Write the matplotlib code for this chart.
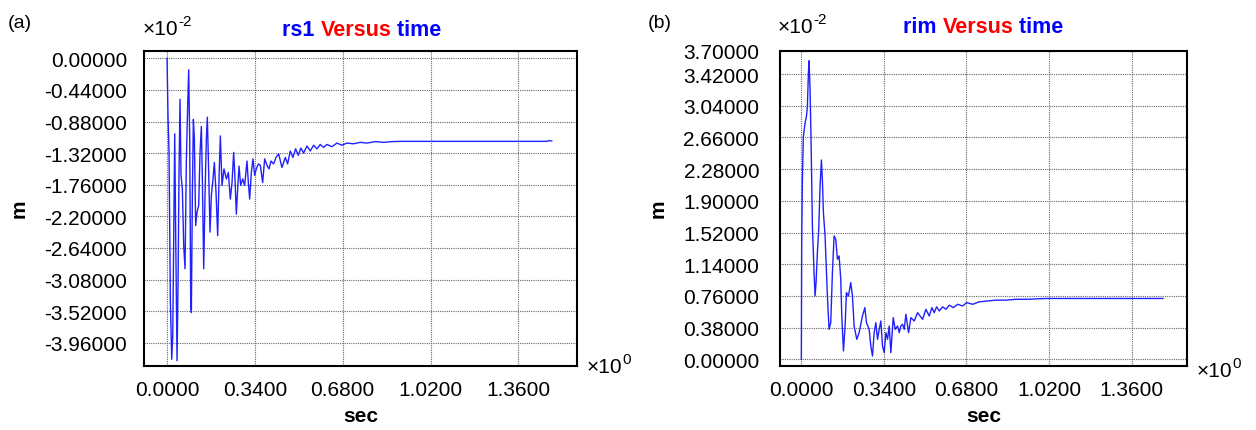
import matplotlib
matplotlib.use("Agg")
import matplotlib.pyplot as plt
import numpy as np

plt.rcParams['font.family'] = ['Liberation Sans', 'DejaVu Sans']

# time in sec, displacement in units of 1e-2 m
t_rs1 = [0.0, 0.0037, 0.0077, 0.0129, 0.0181, 0.0219, 0.0258, 0.0297, 0.0335, 0.0387,
         0.0426, 0.0464, 0.0503, 0.0542, 0.0593, 0.0645, 0.0696, 0.0748, 0.0799, 0.0838,
         0.0877, 0.0916, 0.0941, 0.0980, 0.1019, 0.1057, 0.1109, 0.1161, 0.1225, 0.1277,
         0.1328, 0.1367, 0.1419, 0.1470, 0.1522, 0.1560, 0.1612, 0.1663, 0.1715, 0.1780,
         0.1831, 0.1896, 0.1960, 0.2012, 0.2063, 0.2128, 0.2205, 0.2296, 0.2373, 0.2450,
         0.2515, 0.2579, 0.2631, 0.2682, 0.2734, 0.2786, 0.2850, 0.2927, 0.3005, 0.3095,
         0.3147, 0.3198, 0.3263, 0.3327, 0.3392, 0.3456, 0.3534, 0.3611, 0.3701, 0.3779,
         0.3869, 0.3946, 0.4024, 0.4127, 0.4217, 0.4320, 0.4448, 0.4577, 0.4668, 0.4770,
         0.4873, 0.4977, 0.5080, 0.5183, 0.5286, 0.5415, 0.5544, 0.5673, 0.5802, 0.5931,
         0.6060, 0.6189, 0.6382, 0.6576, 0.6769, 0.6962, 0.7220, 0.7478, 0.7736, 0.8058,
         0.8381, 0.8703, 0.9025, 1.4698, 1.4776, 1.4892]
rs1_vals = [0.00, -0.80, -1.31, -3.40, -4.19, -3.88, -2.52, -1.05, -2.47, -4.21,
            -3.12, -1.59, -0.57, -1.63, -1.82, -2.61, -2.93, -1.40, -0.66, -0.16,
            -1.12, -3.40, -3.54, -1.91, -0.85, -1.12, -2.33, -2.14, -2.05, -1.31,
            -0.95, -1.68, -2.93, -1.91, -1.12, -0.82, -1.59, -2.42, -1.91, -1.68,
            -1.45, -1.87, -2.47, -1.68, -1.08, -1.77, -1.54, -1.68, -1.59, -1.96,
            -1.73, -1.31, -1.68, -2.17, -1.82, -1.50, -1.77, -1.68, -1.77, -1.43,
            -1.73, -1.96, -1.59, -1.40, -1.63, -1.54, -1.47, -1.49, -1.73, -1.40,
            -1.49, -1.54, -1.43, -1.47, -1.38, -1.33, -1.52, -1.38, -1.47, -1.29,
            -1.38, -1.26, -1.35, -1.25, -1.32, -1.22, -1.29, -1.21, -1.26, -1.20,
            -1.24, -1.20, -1.23, -1.18, -1.21, -1.18, -1.19, -1.17, -1.18, -1.16,
            -1.17, -1.16, -1.156, -1.156, -1.146, -1.15]

t_rim = [0.0, 0.0014, 0.0042, 0.0083, 0.0152, 0.0208, 0.0249, 0.0290, 0.0318, 0.0359,
         0.0400, 0.0455, 0.0524, 0.0565, 0.0606, 0.0661, 0.0716, 0.0771, 0.0826, 0.0867,
         0.0909, 0.0977, 0.1073, 0.1142, 0.1211, 0.1280, 0.1349, 0.1417, 0.1486, 0.1555,
         0.1624, 0.1665, 0.1734, 0.1802, 0.1857, 0.1940, 0.2036, 0.2105, 0.2174, 0.2284,
         0.2380, 0.2518, 0.2614, 0.2683, 0.2793, 0.2862, 0.2930, 0.2999, 0.3068, 0.3137,
         0.3206, 0.3274, 0.3343, 0.3412, 0.3481, 0.3550, 0.3619, 0.3687, 0.3784, 0.3866,
         0.3962, 0.4031, 0.4100, 0.4169, 0.4238, 0.4306, 0.4416, 0.4512, 0.4650, 0.4788,
         0.4993, 0.5130, 0.5268, 0.5378, 0.5474, 0.5571, 0.5681, 0.5818, 0.5956, 0.6093,
         0.6259, 0.6437, 0.6643, 0.6808, 0.7056, 0.7331, 0.7675, 0.8019, 0.8431, 0.8844,
         0.9257, 1.0082, 1.0770, 1.1457, 1.4896]
rim_vals = [0.00, 1.36, 2.15, 2.67, 2.83, 2.91, 3.03, 3.43, 3.58, 3.23,
            2.63, 1.60, 1.04, 0.76, 0.92, 1.28, 1.56, 2.07, 2.39, 2.15,
            1.76, 1.48, 0.76, 0.36, 0.44, 1.04, 1.48, 1.44, 1.20, 1.24,
            0.96, 0.52, 0.10, 0.40, 0.80, 0.76, 0.92, 0.76, 0.40, 0.24,
            0.32, 0.52, 0.62, 0.44, 0.36, 0.16, 0.04, 0.32, 0.44, 0.24,
            0.36, 0.46, 0.16, 0.08, 0.32, 0.24, 0.40, 0.08, 0.50, 0.36,
            0.40, 0.32, 0.40, 0.42, 0.36, 0.54, 0.32, 0.50, 0.46, 0.56,
            0.48, 0.60, 0.52, 0.62, 0.56, 0.63, 0.58, 0.63, 0.60, 0.65,
            0.62, 0.66, 0.64, 0.68, 0.66, 0.69, 0.70, 0.71, 0.71, 0.72,
            0.72, 0.73, 0.73, 0.73, 0.73]

x_ticks = [0.0, 0.34, 0.68, 1.02, 1.36]
rs1_yticks = [0.0, -0.44, -0.88, -1.32, -1.76, -2.20, -2.64, -3.08, -3.52, -3.96]
rim_yticks = [0.0, 0.38, 0.76, 1.14, 1.52, 1.90, 2.28, 2.66, 3.04, 3.42, 3.70]

fig = plt.figure(figsize=(12.56, 4.31), dpi=100)
ax1 = fig.add_axes([0.1149, 0.1492, 0.3445, 0.7308])
ax2 = fig.add_axes([0.6210, 0.1492, 0.3238, 0.7308])

panels = [
    (ax1, t_rs1, rs1_vals, rs1_yticks, (-4.28, 0.106), 12.5),
    (ax2, t_rim, rim_vals, rim_yticks, (-0.076, 3.70), 15.0),
]

for ax, t, v, yt, ylim, ypad in panels:
    ax.plot(t, v, color='#2020ff', lw=1.0)
    ax.set_xlim(-0.088, 1.587)
    ax.set_ylim(*ylim)
    ax.set_xticks(x_ticks)
    ax.set_xticklabels([f'{x:.4f}' for x in x_ticks])
    ax.set_yticks(yt)
    ax.set_yticklabels([f'{y:.5f}' for y in yt])
    ax.tick_params(axis='both', length=0, labelsize=15)
    ax.tick_params(axis='x', pad=10)
    ax.tick_params(axis='y', pad=ypad)
    ax.grid(True, color='0.4', linestyle=(0, (1, 1)), lw=0.8)
    for s in ax.spines.values():
        s.set_linewidth(1.5)
        s.set_color('black')
    ax.set_xlabel('sec', fontsize=15, fontweight='bold', labelpad=5)
    ax.set_ylabel('m', fontsize=15, fontweight='bold', labelpad=11)

fig.canvas.draw()
renderer = fig.canvas.get_renderer()

def chain(x0, y0, pieces):
    # place text pieces one after another, (text, size, color, weight, rise_px)
    x = x0
    for txt, size, col, weight, rise in pieces:
        t = fig.text(x, y0 + rise / 431, txt, fontsize=size, color=col, fontweight=weight)
        bb = t.get_window_extent(renderer)
        x = bb.x1 / fig.bbox.width

chain(282 / 1256, 1 - 36 / 431, [('rs1 ', 15.5, '#0000ff', 'bold', 0),
                                 ('Versus', 15.5, '#ff0000', 'bold', 0),
                                 (' time', 15.5, '#0000ff', 'bold', 0)])
chain(903 / 1256, 1 - 33 / 431, [('rim ', 15.5, '#0000ff', 'bold', 0),
                                 ('Versus', 15.5, '#ff0000', 'bold', 0),
                                 (' time', 15.5, '#0000ff', 'bold', 0)])

fig.text(8 / 1256, 1 - 28 / 431, '(a)', fontsize=14)
fig.text(648 / 1256, 1 - 28 / 431, '(b)', fontsize=14)
chain(143 / 1256, 1 - 35 / 431, [('\u00d710', 15, 'black', 'normal', 0),
                                 ('-2', 11, 'black', 'normal', 9)])
chain(778 / 1256, 1 - 33 / 431, [('\u00d710', 15, 'black', 'normal', 0),
                                 ('-2', 11, 'black', 'normal', 9)])
chain(587 / 1256, 1 - 373 / 431, [('\u00d710', 15, 'black', 'normal', 0),
                                  ('0', 11, 'black', 'normal', 9)])
chain(1197 / 1256, 1 - 377 / 431, [('\u00d710', 15, 'black', 'normal', 0),
                                   ('0', 11, 'black', 'normal', 9)])

fig.savefig('out.png', dpi=100)
